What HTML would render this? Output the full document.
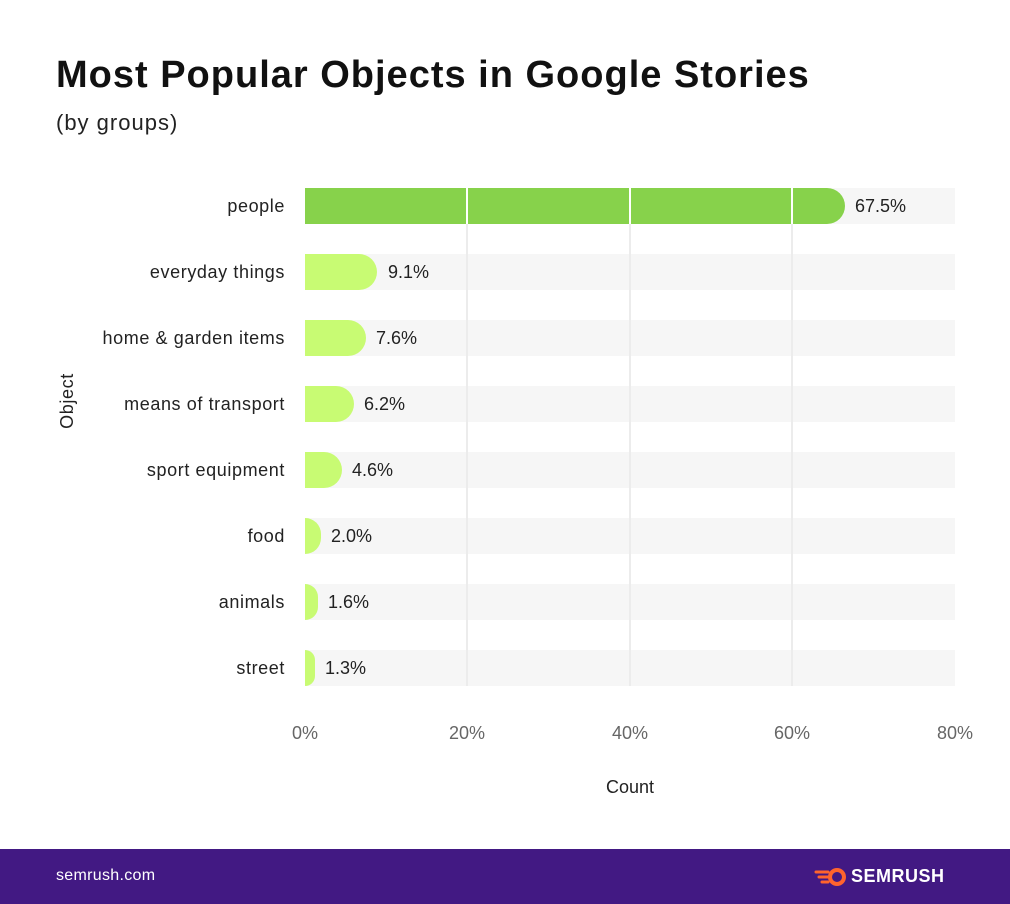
<!DOCTYPE html>
<html><head><meta charset="utf-8"><style>
*{margin:0;padding:0;box-sizing:border-box}
body{width:1010px;height:904px;background:#fff;font-family:"Liberation Sans",sans-serif;position:relative;overflow:hidden;color:#111}
.a{position:absolute}
.t{left:56px;top:54px;font-size:38px;font-weight:bold;letter-spacing:1px}
.s{left:56px;top:110px;font-size:22px;color:#222;letter-spacing:1px}
.track{left:305px;width:650px;height:36px;background:#f6f6f6}
.bar{left:305px;height:36px;border-radius:0 18px 18px 0}
.lab{right:725px;font-size:18px;color:#222;text-align:right;white-space:nowrap;letter-spacing:0.6px}
.val{font-size:18px;color:#222}
.g{width:2px;top:188px;height:498px;background:#ececec}
.tick{top:723px;font-size:18px;color:#666;transform:translateX(-50%)}
.foot{left:0;top:849px;width:1010px;height:55px;background:#421983}
</style></head><body>
<div class="a t">Most Popular Objects in Google Stories</div>
<div class="a s">(by groups)</div>

<div class="a track" style="top:188px"></div>
<div class="a track" style="top:254px"></div>
<div class="a track" style="top:320px"></div>
<div class="a track" style="top:386px"></div>
<div class="a track" style="top:452px"></div>
<div class="a track" style="top:518px"></div>
<div class="a track" style="top:584px"></div>
<div class="a track" style="top:650px"></div>

<div class="a g" style="left:466px"></div>
<div class="a g" style="left:629px"></div>
<div class="a g" style="left:791px"></div>

<div class="a bar" style="top:188px;width:540px;background:#87d24b"></div>
<div class="a" style="left:466px;top:188px;width:2px;height:36px;background:#fff"></div>
<div class="a" style="left:629px;top:188px;width:2px;height:36px;background:#fff"></div>
<div class="a" style="left:791px;top:188px;width:2px;height:36px;background:#fff"></div>
<div class="a bar" style="top:254px;width:72px;background:#c8fb73"></div>
<div class="a bar" style="top:320px;width:61px;background:#c8fb73"></div>
<div class="a bar" style="top:386px;width:49px;background:#c8fb73"></div>
<div class="a bar" style="top:452px;width:37px;background:#c8fb73"></div>
<div class="a bar" style="top:518px;width:16px;background:#c8fb73"></div>
<div class="a bar" style="top:584px;width:13px;background:#c8fb73"></div>
<div class="a bar" style="top:650px;width:10px;background:#c8fb73"></div>

<div class="a lab" style="top:196px">people</div>
<div class="a lab" style="top:262px">everyday things</div>
<div class="a lab" style="top:328px">home &amp; garden items</div>
<div class="a lab" style="top:394px">means of transport</div>
<div class="a lab" style="top:460px">sport equipment</div>
<div class="a lab" style="top:526px">food</div>
<div class="a lab" style="top:592px">animals</div>
<div class="a lab" style="top:658px">street</div>

<div class="a val" style="left:855px;top:196px">67.5%</div>
<div class="a val" style="left:388px;top:262px">9.1%</div>
<div class="a val" style="left:376px;top:328px">7.6%</div>
<div class="a val" style="left:364px;top:394px">6.2%</div>
<div class="a val" style="left:352px;top:460px">4.6%</div>
<div class="a val" style="left:331px;top:526px">2.0%</div>
<div class="a val" style="left:328px;top:592px">1.6%</div>
<div class="a val" style="left:325px;top:658px">1.3%</div>

<div class="a" style="left:56px;top:390px;font-size:18px;color:#222;transform:rotate(-90deg);transform-origin:center;width:22px;height:22px;text-align:center;white-space:nowrap;line-height:22px;letter-spacing:0.6px"><span style="display:inline-block;margin-left:-30px;width:82px">Object</span></div>

<div class="a tick" style="left:305px">0%</div>
<div class="a tick" style="left:467px">20%</div>
<div class="a tick" style="left:630px">40%</div>
<div class="a tick" style="left:792px">60%</div>
<div class="a tick" style="left:955px">80%</div>
<div class="a" style="left:630px;top:777px;font-size:18px;color:#222;transform:translateX(-50%)">Count</div>

<div class="a foot"></div>
<div class="a" style="left:56px;top:867px;font-size:16px;color:#fff;letter-spacing:0.3px">semrush.com</div>
<svg class="a" style="left:814px;top:866px" width="34" height="22" viewBox="0 0 34 22">
<path d="M2 6 L14 6 M5 11 L14 11 M8 16 L14 16" stroke="#ff642d" stroke-width="3" stroke-linecap="round"/>
<circle cx="23" cy="11" r="9" fill="#ff642d"/><circle cx="23" cy="11" r="5" fill="#421983"/>
</svg>
<div class="a" style="left:851px;top:866px;font-size:18px;font-weight:bold;color:#fff;letter-spacing:0.5px">SEMRUSH</div>
</body></html>
